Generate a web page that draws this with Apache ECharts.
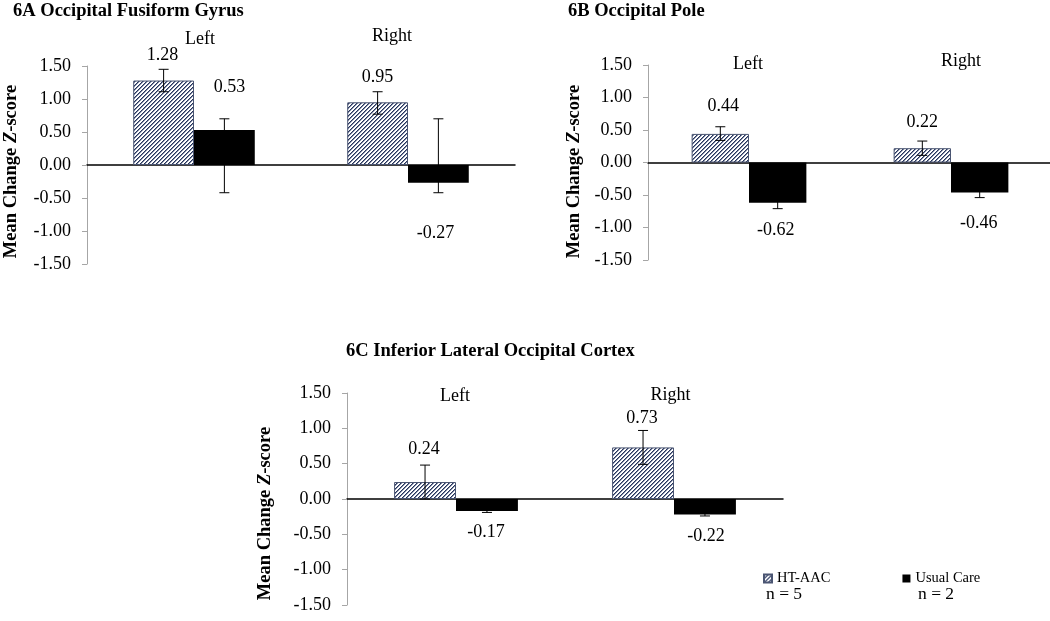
<!DOCTYPE html>
<html><head><meta charset="utf-8">
<script src="https://cdn.jsdelivr.net/npm/echarts@6/dist/echarts.min.js"></script>
<style>html,body{margin:0;padding:0;background:#fff}#c{width:1050px;height:621px}</style>
</head><body><div id="c"></div>
<script>
// ---- data ----
const categories = ['Left', 'Right'];
const seriesNames = ['HT-AAC', 'Usual Care'];
const titles = ['6A Occipital Fusiform Gyrus', '6B Occipital Pole', '6C Inferior Lateral Occipital Cortex'];
const yMin = -1.5, yMax = 1.5, yStep = 0.5;
// 6A
const htA = [1.28, 0.95];
const ucA = [0.53, -0.27];
const htErrA = [[1.11, 1.45], [0.77, 1.11]];
const ucErrA = [[-0.42, 0.70], [-0.42, 0.70]];
// 6B
const htB = [0.44, 0.22];
const ucB = [-0.62, -0.46];
const htErrB = [[0.34, 0.55], [0.11, 0.33]];
const ucErrB = [[-0.71, -0.53], [-0.54, -0.38]];
// 6C
const htC = [0.24, 0.73];
const ucC = [-0.17, -0.22];
const htErrC = [[0.00, 0.48], [0.49, 0.97]];
const ucErrC = [[-0.19, -0.15], [-0.24, -0.20]];
const nLabels = ['n = 5', 'n = 2'];

// ---- styling ----
const FONT = '"Liberation Serif", "Times New Roman", serif';
const pc = document.createElement('canvas'); pc.width = 4; pc.height = 4;
const ctx = pc.getContext('2d');
ctx.fillStyle = '#ffffff'; ctx.fillRect(0, 0, 4, 4);
ctx.fillStyle = '#7f8aa6';
for (let i = 0; i < 4; i++) ctx.fillRect(i, (4 - i) % 4, 1, 1);
ctx.fillStyle = '#27345a';
for (let i = 0; i < 4; i++) ctx.fillRect(i, 3 - i, 1, 1);
const hatch = { image: pc, repeat: 'repeat' };
const BARW = 0.284;

const panels = [
  { grid: { left: 87, top: 66, width: 428, height: 198 }, ht: htA, uc: ucA, htErr: htErrA, ucErr: ucErrA,
    title: { left: 8, top: -3 }, catMargin: 18, catPad: [[0, 0, 0, 12], [0, 32, 3, 0]],
    nameGap: 66, namePad: [0, 13, 0, 0],
    htOff: [[-1, -67], [0, -56]], ucOff: [[5, -60], [-3, 59]] },
  { grid: { left: 648, top: 65, width: 404, height: 195 }, ht: htB, uc: ucB, htErr: htErrB, ucErr: ucErrB,
    title: { left: 563, top: -3 }, catMargin: -8, catPad: [[0, 2, 0, 0], [0, 0, 3, 20]],
    nameGap: 64, namePad: [0, 18, 0, 0],
    htOff: [[3, -42], [0, -33]], ucOff: [[-2, 48], [-1, 46]] },
  { grid: { left: 347, top: 393, width: 436, height: 212 }, ht: htC, uc: ucC, htErr: htErrC, ucErr: ucErrC,
    title: { left: 341, top: 337 }, catMargin: -12, catPad: [[0, 2, 0, 0], [0, 7, 1, 0]],
    nameGap: 72, namePad: [0, 29, 0, 0],
    htOff: [[-1, -41], [-1, -55]], ucOff: [[-1, 27], [1, 29]] }
];

const grid = [], xAxis = [], yAxis = [], series = [], title = [];
const lbl = { fontFamily: FONT, fontSize: 18, color: '#000' };

panels.forEach((p, k) => {
  grid.push(Object.assign({ outerBoundsMode: 'none', containLabel: false }, p.grid));
  title.push({ text: titles[k], left: p.title.left, top: p.title.top,
    textStyle: { fontFamily: FONT, fontSize: 18.5, fontWeight: 'bold', color: '#000' } });
  // bottom axis: draws the zero line
  xAxis.push({ type: 'category', gridIndex: k, data: categories, position: 'bottom',
    axisLine: { onZero: true, lineStyle: { color: '#000', width: 1.5 } },
    axisTick: { show: false }, axisLabel: { show: false }, splitLine: { show: false } });
  // top axis: category labels
  xAxis.push({ type: 'category', gridIndex: k, position: 'top',
    data: categories.map((c, i) => ({ value: c, textStyle: { padding: p.catPad[i] } })),
    axisLine: { show: false }, axisTick: { show: false },
    axisLabel: Object.assign({ margin: p.catMargin }, lbl), splitLine: { show: false } });
  yAxis.push({ type: 'value', gridIndex: k, min: yMin, max: yMax, interval: yStep,
    name: 'Mean Change {i|Z}-score', nameLocation: 'middle', nameRotate: 90, nameGap: p.nameGap,
    nameMoveOverlap: false,
    nameTextStyle: { fontFamily: FONT, fontSize: 18.5, fontWeight: 'bold', color: '#000', padding: p.namePad,
      rich: { i: { fontFamily: FONT, fontSize: 18.5, fontWeight: 'bold', fontStyle: 'italic', color: '#000' } } },
    axisLine: { show: true, lineStyle: { color: '#a6a6a6', width: 1 } },
    axisTick: { show: true, inside: false, length: 5, lineStyle: { color: '#a6a6a6' } },
    axisLabel: Object.assign({ margin: 16, formatter: v => v.toFixed(2) }, lbl),
    splitLine: { show: false } });

  const mk = (vals, offs) => vals.map((v, i) => ({ value: v, label: { offset: offs[i] } }));
  series.push({ name: seriesNames[0], type: 'bar', xAxisIndex: 2 * k, yAxisIndex: k,
    data: mk(p.ht, p.htOff), barWidth: (BARW * 100) + '%', barGap: '0%',
    itemStyle: { color: hatch, borderColor: '#4a5572', borderWidth: 1 },
    label: Object.assign({ show: true, position: 'inside', formatter: d => d.value.toFixed(2), textBorderWidth: 0 }, lbl) });
  series.push({ name: seriesNames[1], type: 'bar', xAxisIndex: 2 * k, yAxisIndex: k,
    data: mk(p.uc, p.ucOff), barWidth: (BARW * 100) + '%', barGap: '0%',
    itemStyle: { color: '#000' },
    label: Object.assign({ show: true, position: 'inside', formatter: d => d.value.toFixed(2), textBorderWidth: 0 }, lbl) });
  const errData = [];
  p.htErr.forEach((e, i) => errData.push([i, e[0], e[1], -1]));
  p.ucErr.forEach((e, i) => errData.push([i, e[0], e[1], 1]));
  series.push({ type: 'custom', xAxisIndex: 2 * k, yAxisIndex: k, z: 10, silent: true,
    data: errData,
    renderItem: (params, api) => {
      const bw = api.size([1, 0])[0];
      const dx = api.value(3) * bw * BARW / 2;
      const lo = api.coord([api.value(0), api.value(1)]);
      const hi = api.coord([api.value(0), api.value(2)]);
      const x = lo[0] + dx, c = 5;
      const st = { stroke: '#000', lineWidth: 1 };
      return { type: 'group', children: [
        { type: 'line', shape: { x1: x, y1: lo[1], x2: x, y2: hi[1] }, style: st },
        { type: 'line', shape: { x1: x - c, y1: lo[1], x2: x + c, y2: lo[1] }, style: st },
        { type: 'line', shape: { x1: x - c, y1: hi[1], x2: x + c, y2: hi[1] }, style: st }
      ] };
    } });
});

const chart = echarts.init(document.getElementById('c'), null, { renderer: 'canvas' });
chart.setOption({
  backgroundColor: '#fff',
  animation: false,
  title, grid, xAxis, yAxis, series,
  legend: { data: seriesNames, left: 758, top: 566, icon: 'rect', itemWidth: 8, itemHeight: 8, itemGap: 72,
    textStyle: { fontFamily: FONT, fontSize: 14.5, color: '#000' } },
  graphic: [
    { type: 'text', left: 766, top: 585, style: { text: nLabels[0], font: '17.5px ' + FONT, fill: '#000' } },
    { type: 'text', left: 918, top: 585, style: { text: nLabels[1], font: '17.5px ' + FONT, fill: '#000' } }
  ]
});
</script></body></html>
